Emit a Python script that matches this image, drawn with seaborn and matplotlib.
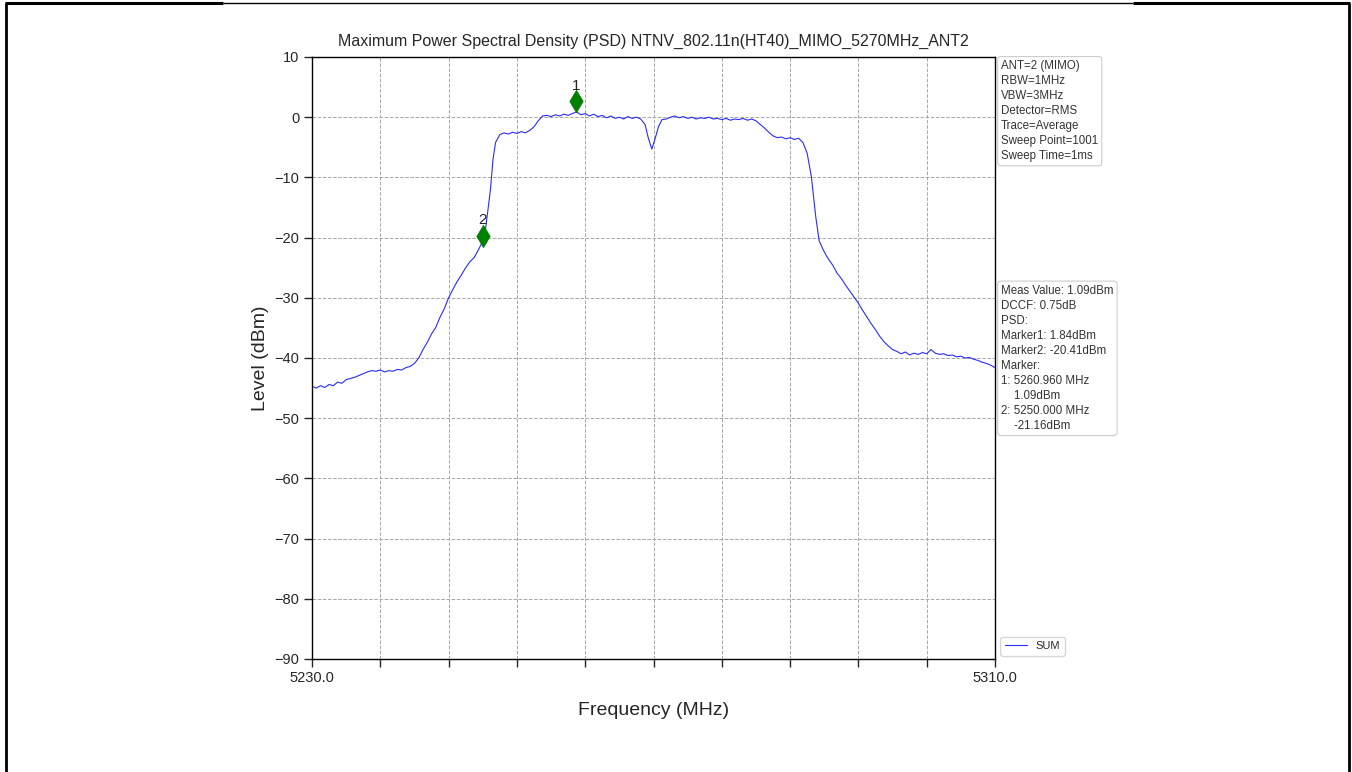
import matplotlib
matplotlib.use("Agg")
import matplotlib.pyplot as plt
from matplotlib.lines import Line2D
import seaborn as sns
import pandas as pd

# ---- data ----
freq_mhz = [
    5230.0, 5230.5, 5231.0, 5231.5, 5232.0, 5232.5, 5233.0, 5233.5, 5234.0, 5234.5,
    5235.0, 5235.5, 5236.0, 5236.5, 5237.0, 5237.5, 5238.0, 5238.5, 5239.0, 5239.5,
    5240.0, 5240.5, 5241.0, 5241.5, 5242.0, 5242.5, 5243.0, 5243.5, 5244.0, 5244.5,
    5245.0, 5245.5, 5246.0, 5246.5, 5247.0, 5247.5, 5248.0, 5248.5, 5249.0, 5249.5,
    5250.0, 5250.3, 5250.6, 5250.9, 5251.2, 5251.5, 5252.0, 5252.5, 5253.0, 5253.5,
    5254.0, 5254.5, 5255.0, 5255.5, 5256.0, 5256.5, 5257.0, 5257.5, 5258.0, 5258.5,
    5259.0, 5259.5, 5260.0, 5260.5, 5261.0, 5261.5, 5262.0, 5262.5, 5263.0, 5263.5,
    5264.0, 5264.5, 5265.0, 5265.5, 5266.0, 5266.5, 5267.0, 5267.5, 5268.0, 5268.5,
    5269.0, 5269.4, 5269.8, 5270.2, 5270.6, 5271.0, 5271.5, 5272.0, 5272.5, 5273.0,
    5273.5, 5274.0, 5274.5, 5275.0, 5275.5, 5276.0, 5276.5, 5277.0, 5277.5, 5278.0,
    5278.5, 5279.0, 5279.5, 5280.0, 5280.5, 5281.0, 5281.5, 5282.0, 5282.5, 5283.0,
    5283.5, 5284.0, 5284.5, 5285.0, 5285.5, 5286.0, 5286.5, 5287.0, 5287.5, 5288.0,
    5288.5, 5289.0, 5289.4, 5289.8, 5290.2, 5290.6, 5291.0, 5291.5, 5292.0, 5292.5,
    5293.0, 5293.5, 5294.0, 5294.5, 5295.0, 5295.5, 5296.0, 5296.5, 5297.0, 5297.5,
    5298.0, 5298.5, 5299.0, 5299.5, 5300.0, 5300.5, 5301.0, 5301.5, 5302.0, 5302.5,
    5303.0, 5303.5, 5304.0, 5304.5, 5305.0, 5305.5, 5306.0, 5306.5, 5307.0, 5307.5,
    5308.0, 5308.5, 5309.0, 5309.5, 5310.0,
]
level_dbm = [
    -44.7, -45.0, -44.6, -44.9, -44.4, -44.6, -44.0, -44.2, -43.6, -43.4,
    -43.2, -42.9, -42.6, -42.3, -42.1, -42.2, -42.0, -42.3, -42.1, -42.2,
    -41.9, -42.0, -41.6, -41.4, -40.9, -40.0, -38.6, -37.4, -36.0, -34.9,
    -33.2, -31.8, -30.0, -28.6, -27.3, -26.2, -25.0, -24.0, -23.3, -22.0,
    -20.6, -18.8, -15.5, -12.0, -7.0, -4.2, -2.9, -2.6, -2.8, -2.5,
    -2.7, -2.4, -2.6, -2.2, -1.6, -0.6, 0.2, 0.3, 0.1, 0.4,
    0.2, 0.5, 0.3, 0.6, 0.9, 0.4, 0.6, 0.2, 0.5, 0.1,
    0.3, -0.1, 0.2, -0.2, 0.0, -0.3, 0.1, -0.2, 0.0, -0.3,
    -1.2, -3.5, -5.3, -3.5, -1.5, -0.4, -0.3, 0.0, 0.2, -0.1,
    0.1, -0.2, 0.0, -0.3, -0.1, -0.2, 0.0, -0.3, -0.2, -0.4,
    -0.2, -0.5, -0.3, -0.4, -0.2, -0.5, -0.3, -0.6, -1.2, -1.8,
    -2.5, -3.1, -3.4, -3.3, -3.6, -3.4, -3.7, -3.5, -4.2, -6.0,
    -10.0, -16.5, -20.5, -21.8, -22.9, -23.8, -24.6, -25.9, -26.8, -27.9,
    -28.9, -29.9, -30.9, -32.1, -33.2, -34.3, -35.3, -36.4, -37.3, -38.0,
    -38.6, -38.9, -39.3, -39.0, -39.5, -39.2, -39.4, -39.1, -39.3, -38.6,
    -39.2, -39.4, -39.3, -39.6, -39.5, -39.8, -39.7, -40.0, -39.9, -40.2,
    -40.4, -40.7, -40.9, -41.2, -41.6,
]
marker_labels = ["1", "2"]
marker_freq = [5260.96, 5250.0]
marker_level = [2.7, -19.7]

x_ticks = [5230, 5238, 5246, 5254, 5262, 5270, 5278, 5286, 5294, 5302, 5310]
x_tick_labels = ["5230.0", "", "", "", "", "", "", "", "", "", "5310.0"]
y_ticks = [10, 0, -10, -20, -30, -40, -50, -60, -70, -80, -90]

title = "Maximum Power Spectral Density (PSD) NTNV_802.11n(HT40)_MIMO_5270MHz_ANT2"
info_text = ("ANT=2 (MIMO)\nRBW=1MHz\nVBW=3MHz\nDetector=RMS\nTrace=Average\n"
             "Sweep Point=1001\nSweep Time=1ms")
meas_text = ("Meas Value: 1.09dBm\nDCCF: 0.75dB\nPSD:\nMarker1: 1.84dBm\n"
             "Marker2: -20.41dBm\nMarker:\n1: 5260.960 MHz\n    1.09dBm\n"
             "2: 5250.000 MHz\n    -21.16dBm")

# ---- plot ----
sns.set_style("white")
plt.rcParams["font.family"] = ["Liberation Sans", "DejaVu Sans"]

fig = plt.figure(figsize=(13.52, 7.72), dpi=100)
ax = fig.add_axes([312 / 1352, 1 - 659 / 772, (995 - 312) / 1352, (659 - 57) / 772])

df = pd.DataFrame({"freq": freq_mhz, "level": level_dbm})
sns.lineplot(data=df, x="freq", y="level", ax=ax, color="#2b2bff", lw=0.8,
             label="SUM", estimator=None, sort=False)
sns.scatterplot(x=marker_freq, y=marker_level, ax=ax, marker="d", color="green",
                s=130, edgecolor="green", linewidth=0.5, zorder=5)
for lab, fx, fy in zip(marker_labels, marker_freq, marker_level):
    ax.annotate(lab, (fx, fy), xytext=(0, 6), textcoords="offset points",
                ha="center", va="bottom", fontsize=11)

ax.set_xlim(5230, 5310)
ax.set_ylim(-90, 10)
ax.set_xticks(x_ticks)
ax.set_xticklabels(x_tick_labels)
ax.set_yticks(y_ticks)
ax.tick_params(axis="both", direction="out", length=6, width=1, labelsize=10.5,
               bottom=True, left=True, pad=3)
ax.grid(True, linestyle="--", color="#a8a8a8", linewidth=0.7)
for s in ax.spines.values():
    s.set_color("black")
    s.set_linewidth(1.0)

ax.set_title(title, fontsize=11.5, pad=8)
ax.set_xlabel("Frequency (MHz)", fontsize=14, labelpad=12)
ax.set_ylabel("Level (dBm)", fontsize=14, labelpad=4)

box = dict(boxstyle="round,pad=0.3", fc="white", ec="#cccccc", lw=0.8)
ax.text(1.009, 0.995, info_text, transform=ax.transAxes, va="top", ha="left",
        fontsize=8.3, color="#333333", bbox=box, linespacing=1.34)
ax.text(1.009, 0.622, meas_text, transform=ax.transAxes, va="top", ha="left",
        fontsize=8.3, color="#333333", bbox=box, linespacing=1.34)

leg = ax.legend(loc="lower left", bbox_to_anchor=(1.003, 0.0), fontsize=8,
                frameon=True, handlelength=2.0, borderaxespad=0.3)
leg.get_frame().set_edgecolor("#cccccc")

# page border
W, H = 1352, 772
def fl(x0, y0, x1, y1, lw):
    fig.add_artist(Line2D([x0 / W, x1 / W], [1 - y0 / H, 1 - y1 / H],
                          transform=fig.transFigure, color="black", lw=lw,
                          solid_capstyle="butt"))
fl(6, 3, 6, 772, 2.0)
fl(1349, 3, 1349, 772, 2.0)
fl(5, 3, 223, 3, 2.2)
fl(223, 3, 1133, 3, 1.0)
fl(1133, 3, 1350, 3, 2.2)

fig.savefig("out.png", dpi=100)
